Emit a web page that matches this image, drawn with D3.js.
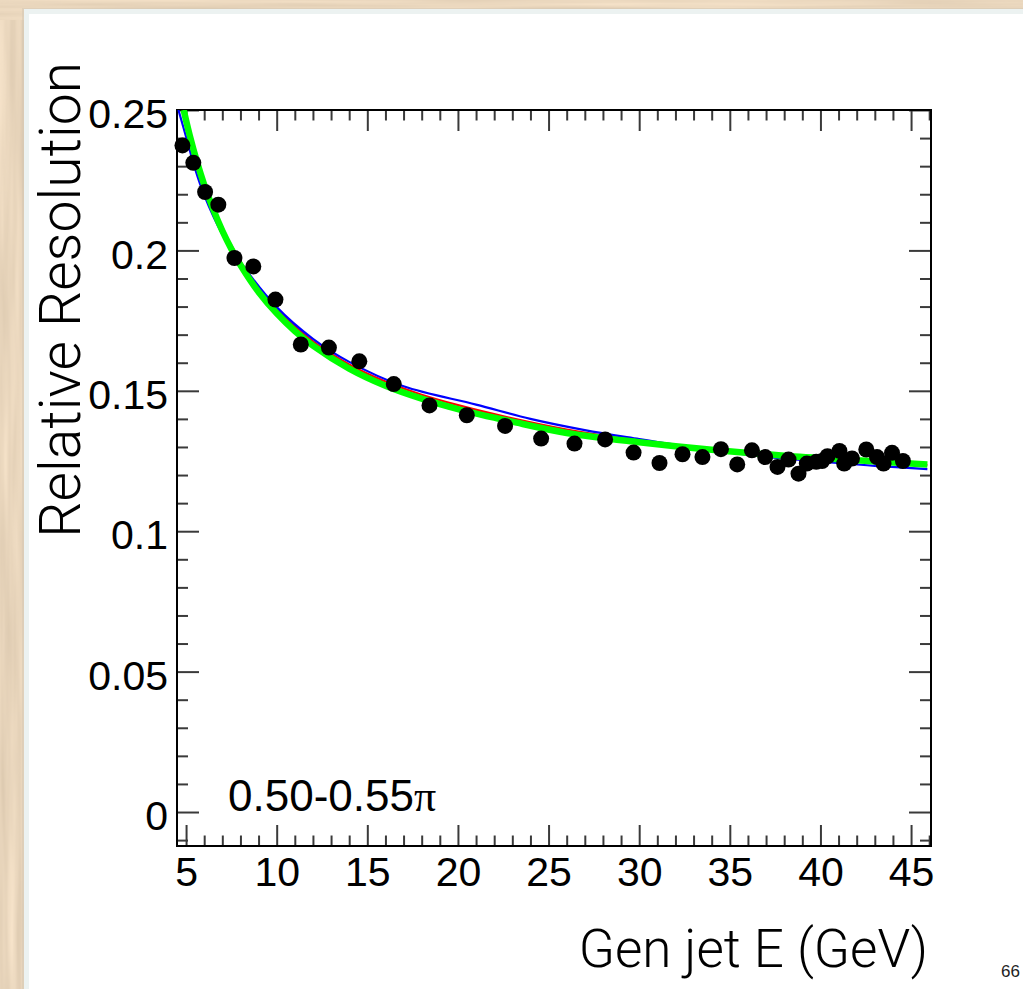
<!DOCTYPE html>
<html><head><meta charset="utf-8">
<script src="https://cdn.jsdelivr.net/npm/d3@7"></script>
<style>html,body{margin:0;padding:0;background:#fff;overflow:hidden}</style>
</head><body>
<svg id="chart" width="1023" height="989"></svg>
<script>
// Measured relative resolution vs generated jet energy
const energy = [4.80, 5.40, 6.05, 6.78, 7.67, 8.71, 9.93, 11.33, 12.88, 14.56, 16.46, 18.43,
  20.49, 22.60, 24.59, 26.43, 28.12, 29.69, 31.12, 32.39, 33.49, 34.51, 35.41, 36.22, 36.95,
  37.63, 38.24, 38.79, 39.25, 39.77, 40.09, 40.39, 41.05, 41.31, 41.74, 42.53, 43.12, 43.48,
  43.95, 44.55];
const resolution = [0.2374, 0.2312, 0.2208, 0.2163, 0.1973, 0.1943, 0.1825, 0.1665, 0.1654,
  0.1605, 0.1524, 0.1448, 0.1413, 0.1375, 0.1330, 0.1312, 0.1327, 0.1280, 0.1243, 0.1274,
  0.1264, 0.1292, 0.1238, 0.1288, 0.1264, 0.1229, 0.1255, 0.1205, 0.1241, 0.1247, 0.1250,
  0.1267, 0.1286, 0.1241, 0.1259, 0.1291, 0.1264, 0.1241, 0.1279, 0.1250];

// Fit curves, sampled along energy
const fitBlueE = [4.58, 5.0, 5.5, 6.0, 7.0, 8.0, 10, 12, 14, 17, 21, 24, 27, 30, 33.4, 36.7, 40, 43, 45.9];
const fitBlueR = [0.2500, 0.2405, 0.2290, 0.2197, 0.2058, 0.1958, 0.1798, 0.1685, 0.1603, 0.1516,
  0.1451, 0.1400, 0.1360, 0.1328, 0.1294, 0.1267, 0.1248, 0.1233, 0.1221];
const fitRedE = [4.87, 6, 8, 10, 12, 14, 16, 18, 20, 23, 26, 30, 34, 38, 42, 45.9];
const fitRedR = [0.2500, 0.2237, 0.1960, 0.1791, 0.1676, 0.1594, 0.1533, 0.1486, 0.1449,
  0.1402, 0.1362, 0.1322, 0.1291, 0.1268, 0.1250, 0.1235];
const fitGreenE = [4.87, 5.2, 5.6, 6.0, 6.5, 7.0, 7.5, 8.0, 9, 10, 11, 12, 14, 16, 18, 20,
  23, 26, 30, 34, 38, 42, 45.9];
const fitGreenR = [0.2500, 0.2410, 0.2316, 0.2234, 0.2146, 0.2070, 0.2005, 0.1948, 0.1852,
  0.1776, 0.1713, 0.1661, 0.1579, 0.1518, 0.1472, 0.1435, 0.1390, 0.1350, 0.1317, 0.1290,
  0.1269, 0.1253, 0.1238];

const xMajorTicks = [5, 10, 15, 20, 25, 30, 35, 40, 45];
const xTickLabels = ["5", "10", "15", "20", "25", "30", "35", "40", "45"];
const yMajorTicks = [0, 0.05, 0.1, 0.15, 0.2, 0.25];
const yTickLabels = ["0", "0.05", "0.1", "0.15", "0.2", "0.25"];

const svg = d3.select("#chart");
const W = 1023, H = 989;

// ---- wooden backdrop and slide card ----
const defs = svg.append("defs");
function grain(id, fx, fy, seed) {
  const f = defs.append("filter").attr("id", id)
    .attr("x", 0).attr("y", 0).attr("width", 1).attr("height", 1)
    .attr("color-interpolation-filters", "sRGB");
  f.append("feTurbulence").attr("type", "fractalNoise")
    .attr("baseFrequency", fx + " " + fy).attr("numOctaves", 3).attr("seed", seed);
  f.append("feColorMatrix").attr("type", "matrix").attr("values",
    "0.16 0 0 0 0.835  0.16 0 0 0 0.76  0.16 0 0 0 0.66  0 0 0 0 1");
}
grain("grainV", 0.09, 0.004, 4);
grain("grainH", 0.003, 0.12, 7);
svg.append("rect").attr("x", 0).attr("y", 0).attr("width", 40).attr("height", H)
  .attr("filter", "url(#grainV)");
svg.append("rect").attr("x", 0).attr("y", 0).attr("width", W).attr("height", 20)
  .attr("filter", "url(#grainH)");
svg.append("rect").attr("x", 22).attr("y", 8).attr("width", W).attr("height", H)
  .attr("fill", "#d6c8b4").attr("opacity", 0.6);
svg.append("rect").attr("x", 24).attr("y", 9).attr("width", W).attr("height", H)
  .attr("fill", "#ecf2f1");
svg.append("rect").attr("x", 29).attr("y", 14).attr("width", W).attr("height", H)
  .attr("fill", "#ffffff");

// ---- plot area ----
const plotLeft = 177, plotRight = 931, plotTop = 110, plotBottom = 846;
const x = d3.scaleLinear().domain([4.5, 46.1]).range([plotLeft, plotRight]);
const y = d3.scaleLinear().domain([-0.0121, 0.25]).range([plotBottom, plotTop]);

defs.append("clipPath").attr("id", "plotClip").append("rect")
  .attr("x", plotLeft).attr("y", plotTop)
  .attr("width", plotRight - plotLeft).attr("height", plotBottom - plotTop);

const xMinor = d3.range(5, 47, 1).filter(v => v % 5 !== 0);
const yMinor = d3.range(-1, 26, 1).filter(v => v % 5 !== 0).map(v => v / 100);

const tickFont = "'Liberation Sans', Arial, Helvetica, sans-serif";
function styleAxis(g) {
  g.select(".domain").remove();
  g.selectAll(".tick line").attr("stroke", "#3a3a3a").attr("stroke-width", 2);
  g.selectAll(".tick text").attr("fill", "#000").style("font-family", tickFont)
    .style("font-size", "41px");
}

// bottom axis with labels
svg.append("g").attr("transform", `translate(0,${plotBottom})`)
  .call(d3.axisBottom(x).tickValues(xMajorTicks).tickSize(-21).tickPadding(11)
    .tickFormat((d, i) => xTickLabels[i]))
  .call(styleAxis);
svg.append("g").attr("transform", `translate(0,${plotBottom})`)
  .call(d3.axisBottom(x).tickValues(xMinor).tickSize(-10.5).tickFormat(""))
  .call(styleAxis);
// top axis, ticks only
svg.append("g").attr("transform", `translate(0,${plotTop})`)
  .call(d3.axisTop(x).tickValues(xMajorTicks).tickSize(-21).tickFormat(""))
  .call(styleAxis);
svg.append("g").attr("transform", `translate(0,${plotTop})`)
  .call(d3.axisTop(x).tickValues(xMinor).tickSize(-10.5).tickFormat(""))
  .call(styleAxis);
// left axis with labels
const yAxisG = svg.append("g").attr("transform", `translate(${plotLeft},0)`)
  .call(d3.axisLeft(y).tickValues(yMajorTicks).tickSize(-22).tickPadding(9)
    .tickFormat((d, i) => yTickLabels[i]))
  .call(styleAxis);
yAxisG.selectAll(".tick text").attr("dy", "0.43em");
svg.append("g").attr("transform", `translate(${plotLeft},0)`)
  .call(d3.axisLeft(y).tickValues(yMinor).tickSize(-11).tickFormat(""))
  .call(styleAxis);
// right axis, ticks only
svg.append("g").attr("transform", `translate(${plotRight},0)`)
  .call(d3.axisRight(y).tickValues(yMajorTicks).tickSize(-22).tickFormat(""))
  .call(styleAxis);
svg.append("g").attr("transform", `translate(${plotRight},0)`)
  .call(d3.axisRight(y).tickValues(yMinor).tickSize(-11).tickFormat(""))
  .call(styleAxis);

// frame
svg.append("rect").attr("x", plotLeft).attr("y", plotTop)
  .attr("width", plotRight - plotLeft).attr("height", plotBottom - plotTop)
  .attr("fill", "none").attr("stroke", "#000").attr("stroke-width", 2);

// ---- fit curves ----
const line = d3.line().x(d => x(d[0])).y(d => y(d[1])).curve(d3.curveCatmullRom.alpha(0.5));
const curves = svg.append("g").attr("clip-path", "url(#plotClip)");
curves.append("path").datum(d3.zip(fitRedE, fitRedR)).attr("d", line)
  .attr("fill", "none").attr("stroke", "#ff0000").attr("stroke-width", 2.2);
curves.append("path").datum(d3.zip(fitBlueE, fitBlueR)).attr("d", line)
  .attr("fill", "none").attr("stroke", "#0000ff").attr("stroke-width", 2.2);
curves.append("path").datum(d3.zip(fitGreenE, fitGreenR)).attr("d", line)
  .attr("fill", "none").attr("stroke", "#00ff00").attr("stroke-width", 6.5);

// ---- data points ----
svg.append("g").selectAll("circle").data(d3.zip(energy, resolution)).join("circle")
  .attr("cx", d => x(d[0])).attr("cy", d => y(d[1])).attr("r", 8).attr("fill", "#000");

// ---- labels ----
const titleFont = "Roboto, 'Liberation Sans', sans-serif";
svg.append("text").attr("x", 928).attr("y", 967).attr("text-anchor", "end")
  .style("font-family", titleFont).style("font-weight", 300).style("font-size", "53px")
  .text("Gen jet E (GeV)");
svg.append("text").attr("transform", "translate(80,62) rotate(-90)").attr("text-anchor", "end")
  .style("font-family", titleFont).style("font-weight", 300).style("font-size", "57px")
  .text("Relative Resolution");

const etaLabel = svg.append("text").attr("x", 228).attr("y", 811)
  .style("font-family", tickFont).style("font-size", "44px");
etaLabel.append("tspan").text("0.50-0.55");
etaLabel.append("tspan").style("font-family", "'Liberation Serif', 'DejaVu Serif', serif").text("π");

svg.append("text").attr("x", 1001).attr("y", 977)
  .style("font-family", tickFont).style("font-size", "17px").attr("fill", "#222").text("66");
</script>
</body></html>
